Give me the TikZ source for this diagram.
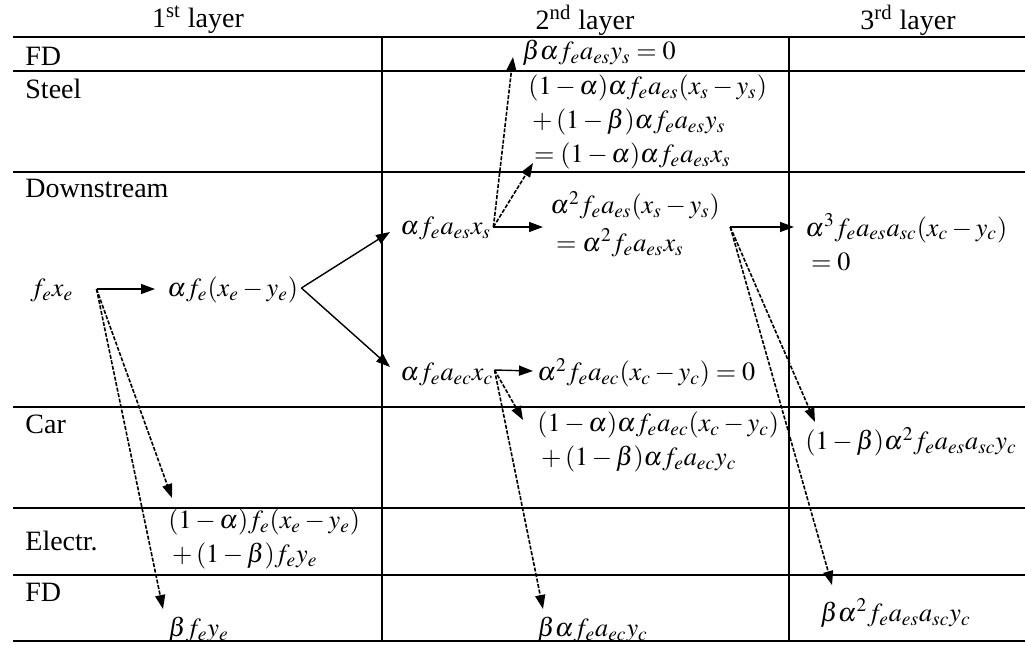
\documentclass[tikz,border=0pt]{standalone}
\usepackage{mathptmx}
\usepackage[no-math]{fontspec}
\setmainfont{Liberation Serif}
\usepackage{tikz}
\usetikzlibrary{arrows.meta,calc}

\begin{document}
\begin{tikzpicture}[
  x=0.5pt, y=-0.5pt,
  every node/.style={font=\fontsize{14}{17}\selectfont},
  hdr/.style={inner sep=0pt},
  rowlab/.style={anchor=west, inner sep=0pt},
  cell/.style={anchor=west, inner sep=0pt, align=left, font=\fontsize{13.1}{17}\selectfont},
  tabline/.style={line width=0.8pt},
  arr/.style={-{Triangle[length=7pt,width=5pt]}, line width=0.7pt},
  darr/.style={arr, line width=0.8pt, dash pattern=on 2pt off 0.8pt}
]
  \useasboundingbox (0,0) rectangle (1025,644);

  % table
  \foreach \y in {37,71,172,407,508,575,641}
    \draw[tabline] (13,\y) -- (1025,\y);
  \foreach \x in {382,789}
    \draw[tabline] (\x,37) -- (\x,641);

  \node[hdr] (h1) at (198,20) {1\textsuperscript{st} layer};
  \node[hdr] (h2) at (585,20) {2\textsuperscript{nd} layer};
  \node[hdr] (h3) at (908,20) {3\textsuperscript{rd} layer};

  \node[rowlab] (fd1)    at (25,56)  {FD};
  \node[rowlab] (steel)  at (25,89)  {Steel};
  \node[rowlab] (down)   at (25,188) {Downstream};
  \node[rowlab] (car)    at (25,424) {Car};
  \node[rowlab] (electr) at (25,541) {Electr.};
  \node[rowlab] (fd2)    at (25,592) {FD};

  % 1st layer
  \node[cell] (fexe) at (30,290)  {$f_e x_e$};
  \node[cell] (afe)  at (167,290) {$\alpha f_e(x_e-y_e)$};
  \node[cell] (s1el) at (168,539) {$(1-\alpha)f_e(x_e-y_e)$\\${}+(1-\beta)f_e y_e$};
  \node[cell] (s1fd) at (168,630) {$\beta f_e y_e$};

  % 2nd layer
  \node[cell] (aes)   at (400,228) {$\alpha f_e a_{es} x_s$};
  \node[cell] (aec)   at (400,374) {$\alpha f_e a_{ec} x_c$};
  \node[cell] (s2fd)  at (522,53)  {$\beta\alpha f_e a_{es} y_s=0$};
  \node[cell] (s2st)  at (528,122) {$(1-\alpha)\alpha f_e a_{es}(x_s-y_s)$\\${}+(1-\beta)\alpha f_e a_{es} y_s$\\${}=(1-\alpha)\alpha f_e a_{es} x_s$};
  \node[cell] (s2ds)  at (550,224) {$\alpha^2 f_e a_{es}(x_s-y_s)$\\[2pt]${}=\alpha^2 f_e a_{es} x_s$};
  \node[cell] (s2ex)  at (537,373) {$\alpha^2 f_e a_{ec}(x_c-y_c)=0$};
  \node[cell] (s2car) at (537,442) {$(1-\alpha)\alpha f_e a_{ec}(x_c-y_c)$\\${}+(1-\beta)\alpha f_e a_{ec} y_c$};
  \node[cell] (s2fd2) at (537,630) {$\beta\alpha f_e a_{ec} y_c$};

  % 3rd layer
  \node[cell] (s3ds)  at (805,242) {$\alpha^3 f_e a_{es} a_{sc}(x_c-y_c)$\\${}=0$};
  \node[cell] (s3car) at (805,442) {$(1-\beta)\alpha^2 f_e a_{es} a_{sc} y_c$};
  \node[cell] (s3fd)  at (820,613) {$\beta\alpha^2 f_e a_{es} a_{sc} y_c$};

  % branch points
  \coordinate (fexe-o) at ($(fexe.east)+(23,-1)$);
  \coordinate (afe-o)  at ($(afe.east)+(3,-2)$);
  \coordinate (aes-o)  at ($(aes.east)+(2,-1)$);
  \coordinate (aec-o)  at ($(aec.east)+(1,-4)$);
  \coordinate (s2ds-o) at ($(s2ds.east)+(10,3)$);

  \draw[arr]  (fexe-o) -- ($(afe.west)+(-12,-1)$);
  \draw[darr] (fexe-o) -- ($(s1el.west)+(4,-41)$);
  \draw[darr] (fexe-o) -- ($(s1fd.west)+(-5,-21)$);

  \draw[arr] (afe-o) -- ($(aes.west)+(-10,4)$);
  \draw[arr] (afe-o) -- ($(aec.west)+(-10,-7)$);

  \draw[arr]  (aes-o) -- ($(s2ds.west)+(-7,3)$);
  \draw[darr] (aes-o) -- ($(s2st.west)+(5,41)$);
  \draw[darr] (aes-o) -- ($(s2fd.west)+(-9,4)$);

  \draw[arr]  (aec-o) -- ($(s2ex.west)+(-4,-2)$);
  \draw[darr] (aec-o) -- ($(s2car.west)+(-14,-22)$);
  \draw[darr] (aec-o) -- ($(s2fd2.west)+(6,-21)$);

  \draw[arr]  (s2ds-o) -- ($(s3ds.west)+(-11,-15)$);
  \draw[darr] (s2ds-o) -- ($(s3car.west)+(10,-20)$);
  \draw[darr] (s2ds-o) -- ($(s3fd.west)+(12,-28)$);
\end{tikzpicture}
\end{document}
